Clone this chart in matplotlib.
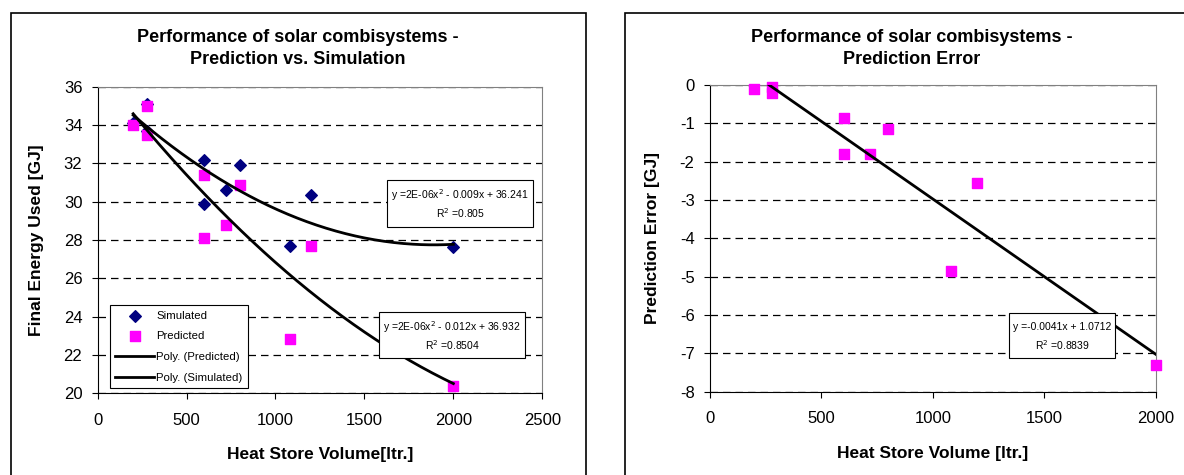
import matplotlib
matplotlib.use('Agg')
import matplotlib.pyplot as plt
from matplotlib.patches import Rectangle
import numpy as np

plt.rcParams['font.family'] = ['Liberation Sans', 'DejaVu Sans']
plt.rcParams['axes.unicode_minus'] = False

# Heat store volume [ltr.] and final energy used [GJ]
volume = [200, 280, 280, 600, 600, 720, 800, 1080, 1200, 2000]
simulated = [34.1, 35.1, 33.7, 32.2, 29.9, 30.6, 31.9, 27.7, 30.35, 27.65]
predicted = [34.0, 35.0, 33.5, 31.4, 28.1, 28.8, 30.85, 22.85, 27.7, 20.4]
pred_error = [-0.1, -0.05, -0.2, -0.85, -1.8, -1.8, -1.15, -4.85, -2.55, -7.3]

eq_sim = ['y =2E-06x$^2$ - 0.009x + 36.241', 'R$^2$ =0.805']
eq_pred = ['y =2E-06x$^2$ - 0.012x + 36.932', 'R$^2$ =0.8504']
eq_err = ['y =-0.0041x + 1.0712', 'R$^2$ =0.8839']

W, H = 1184, 475
fig = plt.figure(figsize=(W / 100, H / 100), dpi=100)

# chart area frames
fig.patches.append(Rectangle((10.7 / W, -0.1), 574.8 / W, 1.1 - 13 / H, transform=fig.transFigure,
                             fill=False, edgecolor='black', linewidth=1.2))
fig.patches.append(Rectangle((624.5 / W, -0.1), 0.6, 1.1 - 13 / H, transform=fig.transFigure,
                             fill=False, edgecolor='black', linewidth=1.2))


def style_axes(ax):
    for s in ['top', 'right']:
        ax.spines[s].set_color('#808080')
    for s in ['left', 'bottom']:
        ax.spines[s].set_color('black')
    ax.tick_params(direction='out', length=4, width=0.8, labelsize=12)
    ax.tick_params(axis='x', pad=10)
    ax.tick_params(axis='y', pad=7)
    ax.yaxis.grid(True, linestyle=(0, (6, 4)), color='black', linewidth=0.9)
    ax.set_axisbelow(True)


def eq_box(ax, x0, x1, y0, y1, lines, ly):
    ax.add_patch(Rectangle((x0, y0), x1 - x0, y1 - y0, transform=ax.transAxes,
                           facecolor='white', edgecolor='black', linewidth=0.8, zorder=5))
    for t, yy in zip(lines, ly):
        ax.text((x0 + x1) / 2, yy, t, transform=ax.transAxes, fontsize=7.5,
                ha='center', va='center', zorder=6)


def title(xc, lines):
    fig.text(xc / W, 1 - 38 / H, lines[0], fontsize=13, fontweight='bold', ha='center', va='center')
    fig.text(xc / W, 1 - 59 / H, lines[1], fontsize=13, fontweight='bold', ha='center', va='center')


xs = np.linspace(min(volume), max(volume), 200)

# ---- left chart ----
ax1 = fig.add_axes([97.6 / W, 1 - 393.3 / H, 444.7 / W, 306.6 / H])
style_axes(ax1)
ax1.scatter(volume, simulated, marker='D', s=35, color='#000080', label='Simulated', zorder=3)
ax1.scatter(volume, predicted, marker='s', s=45, color='#FF00FF', label='Predicted', zorder=3)
c_pred = np.polyfit(volume, predicted, 2)
c_sim = np.polyfit(volume, simulated, 2)
ax1.plot(xs, np.polyval(c_pred, xs), color='black', linewidth=2, label='Poly. (Predicted)', zorder=4)
ax1.plot(xs, np.polyval(c_sim, xs), color='black', linewidth=2, label='Poly. (Simulated)', zorder=4)
ax1.set_xlim(0, 2500)
ax1.set_ylim(20, 36)
ax1.set_xticks(range(0, 2501, 500))
ax1.set_yticks(range(20, 37, 2))
ax1.set_xlabel('Heat Store Volume[ltr.]', fontsize=12.5, fontweight='bold', labelpad=14)
ax1.set_ylabel('Final Energy Used [GJ]', fontsize=12.5, fontweight='bold', labelpad=14)
title(298, ['Performance of solar combisystems -', 'Prediction vs. Simulation'])
leg = ax1.legend(loc='lower left', bbox_to_anchor=(0.028, 0.017), borderaxespad=0, fontsize=8.2,
                 fancybox=False, edgecolor='black', framealpha=1, borderpad=0.45,
                 labelspacing=0.95, handlelength=3.4, handletextpad=0.2)
leg.get_frame().set_linewidth(0.8)
eq_box(ax1, 0.650, 0.980, 0.542, 0.696, eq_sim, [0.647, 0.588])
eq_box(ax1, 0.633, 0.962, 0.115, 0.265, eq_pred, [0.215, 0.1575])

# ---- right chart ----
ax2 = fig.add_axes([709.9 / W, 1 - 391.7 / H, 445.7 / W, 306.7 / H])
style_axes(ax2)
pts = ax2.scatter(volume, pred_error, marker='s', s=45, color='#FF00FF', zorder=3)
pts.set_clip_on(False)
c_err = np.polyfit(volume, pred_error, 1)
ax2.plot(xs, np.polyval(c_err, xs), color='black', linewidth=2, zorder=4)
ax2.set_xlim(0, 2000)
ax2.set_ylim(-8, 0)
ax2.set_xticks(range(0, 2001, 500))
ax2.set_yticks(range(-8, 1, 1))
ax2.set_xlabel('Heat Store Volume [ltr.]', fontsize=12.5, fontweight='bold', labelpad=14)
ax2.set_ylabel('Prediction Error [GJ]', fontsize=12.5, fontweight='bold', labelpad=14)
title(912, ['Performance of solar combisystems -', 'Prediction Error'])
eq_box(ax2, 0.672, 0.908, 0.110, 0.257, eq_err, [0.211, 0.152])

fig.savefig('out.png', dpi=100)
